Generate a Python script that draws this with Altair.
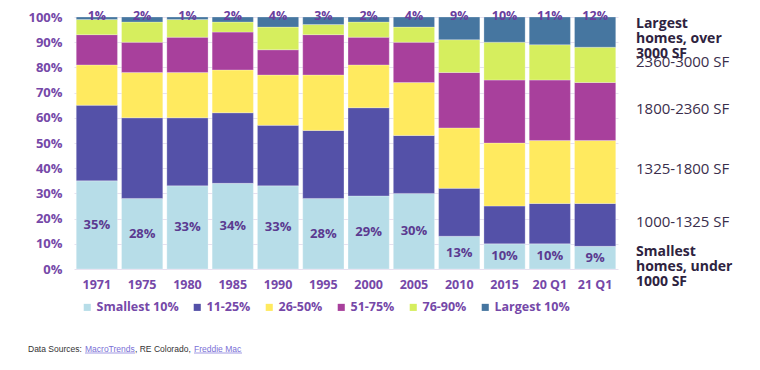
import altair as alt
import pandas as pd

periods = ["1971", "1975", "1980", "1985", "1990", "1995", "2000", "2005",
           "2010", "2015", "20 Q1", "21 Q1"]
segments = ["Smallest 10%", "11-25%", "26-50%", "51-75%", "76-90%", "Largest 10%"]
smallest = [35, 28, 33, 34, 33, 28, 29, 30, 13, 10, 10, 9]
p11_25 = [30, 32, 27, 28, 24, 27, 35, 23, 19, 15, 16, 17]
p26_50 = [16, 18, 18, 17, 20, 22, 17, 21, 24, 25, 25, 25]
p51_75 = [12, 12, 14, 15, 10, 16, 11, 16, 22, 25, 24, 23]
p76_90 = [6, 8, 7, 4, 9, 4, 6, 6, 13, 15, 14, 14]
largest = [1, 2, 1, 2, 4, 3, 2, 4, 9, 10, 11, 12]
size_labels = ["Smallest\nhomes, under\n1000 SF", "1000-1325 SF", "1325-1800 SF",
               "1800-2360 SF", "2360-3000 SF", "Largest\nhomes, over\n3000 SF"]
y_ticks = [0, 10, 20, 30, 40, 50, 60, 70, 80, 90, 100]
colors = ["#B7DDE8", "#5451A8", "#FFEA5F", "#A8409C", "#D6EE5E", "#4676A0"]

series = [smallest, p11_25, p26_50, p51_75, p76_90, largest]
rows = []
for si, (seg, vals) in enumerate(zip(segments, series)):
    for p, v in zip(periods, vals):
        rows.append({"period": p, "segment": seg, "idx": si, "value": v})
df = pd.DataFrame(rows)

lab_small = pd.DataFrame({"period": periods, "value": smallest,
                          "mid": [v / 2 for v in smallest],
                          "label": [f"{v}%" for v in smallest]})
lab_top = pd.DataFrame({"period": periods, "top": [100] * len(periods),
                        "label": [f"{v}%" for v in largest]})

# annotation positions: midpoints of the last column's segments
last = [s[-1] for s in series]
cum = 0
mids = []
for v in last:
    mids.append(cum + v / 2)
    cum += v
ann = pd.DataFrame({"label": size_labels, "y": mids, "bold": [1, 0, 0, 0, 0, 1],
                    "idx": list(range(6))})

purple = "#7548A8"
FONT = "Open Sans"

x_scale = alt.Scale(domain=periods, paddingInner=0.09, paddingOuter=0.05)
x_axis = alt.Axis(title=None, labelAngle=0, ticks=False, domain=False, labelPadding=9,
                  labelFont=FONT, labelFontSize=12.5, labelFontWeight="bold",
                  labelColor=purple, grid=False)
y_scale = alt.Scale(domain=[0, 100], nice=False)
y_axis = alt.Axis(title=None, values=y_ticks, labelExpr="datum.value + '%'",
                  ticks=False, domain=False, labelPadding=12, labelFont=FONT,
                  labelFontSize=13, labelFontWeight="bold", labelColor=purple,
                  labelOverlap=False, labelFlush=False, tickCount=11,
                  gridColor="#E6E0EF", gridWidth=1)


def X():
    return alt.X("period:N", scale=x_scale, axis=x_axis)


def Y(field, **kw):
    return alt.Y(field, scale=y_scale, axis=y_axis, **kw)


bars = alt.Chart(df).mark_bar(stroke="white", strokeWidth=0.5, strokeOpacity=0.5).encode(
    x=X(),
    y=Y("value:Q", stack="zero"),
    color=alt.Color("segment:N", scale=alt.Scale(domain=segments, range=colors),
                    legend=alt.Legend(orient="none", legendX=7, legendY=284,
                                      direction="horizontal", title=None,
                                      symbolType="square", symbolSize=50,
                                      symbolStrokeWidth=0, labelFont=FONT,
                                      labelFontWeight="bold", labelFontSize=12.5,
                                      labelColor=purple, labelOffset=3,
                                      columnPadding=12, padding=0)),
    order=alt.Order("idx:Q", sort="ascending"),
)

small_txt = alt.Chart(lab_small).mark_text(
    font=FONT, fontSize=13, fontWeight="bold", color="#5B3A90", baseline="middle"
).encode(x=X(), y=Y("mid:Q"), text="label:N")

top_txt = alt.Chart(lab_top).mark_text(
    font=FONT, fontSize=12.5, fontWeight="bold", color="#6A3E9E", baseline="middle", dy=-1
).encode(x=X(), y=Y("top:Q"), text="label:N")

ann_reg = alt.Chart(ann).transform_filter("datum.bold == 0").mark_text(
    font=FONT, fontSize=15, color="#3A2E4C", align="left", baseline="middle", dy=-3
).encode(x=alt.value(562), y=Y("y:Q"), text="label:N")

ann_big = alt.Chart(ann).transform_filter("datum.idx == 5").mark_text(
    font=FONT, fontSize=14, fontWeight="bold", color="#2E2340", align="left",
    baseline="middle", lineBreak="\n", lineHeight=15, dy=-8
).encode(x=alt.value(562), y=Y("y:Q"), text="label:N")

ann_small = alt.Chart(ann).transform_filter("datum.idx == 0").mark_text(
    font=FONT, fontSize=14, fontWeight="bold", color="#2E2340", align="left",
    baseline="middle", lineBreak="\n", lineHeight=15, dy=-6
).encode(x=alt.value(562), y=Y("y:Q"), text="label:N")

one = pd.DataFrame({"k": [0]})
SRC_FONT = "Liberation Sans"


def src_piece(text, x, color):
    return alt.Chart(one).mark_text(font=SRC_FONT, fontSize=8.5, color=color,
                                    align="left", baseline="middle").encode(
        x=alt.value(x), y=alt.value(332), text=alt.value(text))


link = "#7A6FD6"
src = (src_piece("Data Sources:", -46, "#333333") + src_piece("MacroTrends", 11, link)
       + src_piece(", RE Colorado,", 61, "#333333") + src_piece("Freddie Mac", 120, link))
ul1 = alt.Chart(one).mark_rule(color=link, strokeWidth=0.7).encode(
    x=alt.value(11), x2=alt.value(61), y=alt.value(336))
ul2 = alt.Chart(one).mark_rule(color=link, strokeWidth=0.7).encode(
    x=alt.value(120), x2=alt.value(168), y=alt.value(336))

chart = alt.layer(bars, small_txt, top_txt, ann_reg, ann_big, ann_small, src, ul1, ul2).properties(
    width=544, height=252,
    padding={"left": 66, "top": 9, "right": 134, "bottom": 93},
    autosize=alt.AutoSizeParams(type="none"),
).configure_view(stroke=None)

chart.save("out.html", embed_options={"renderer": "svg", "actions": False})
